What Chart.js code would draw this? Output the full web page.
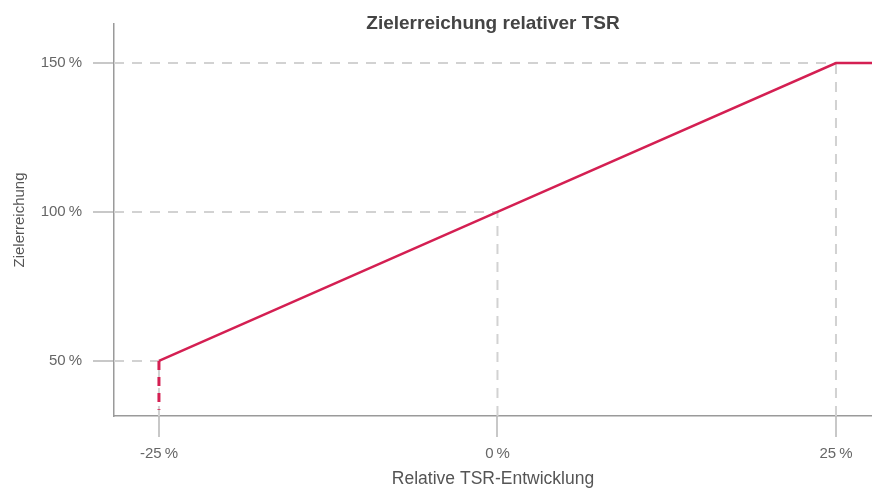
<!DOCTYPE html>
<html lang="de">
<head>
<meta charset="utf-8">
<title>Zielerreichung relativer TSR</title>
<script src="https://cdn.jsdelivr.net/npm/chart.js@4/dist/chart.umd.min.js"></script>
<style>
  html, body { margin: 0; padding: 0; background: #fff; }
  #wrap { width: 872px; height: 488px; }
</style>
</head>
<body>
<div id="wrap"><canvas id="chart" width="872" height="488"></canvas></div>
<script>
// Werte
const tsrWerte = [-25, 0, 25, 27.66];        // relative TSR-Entwicklung in %
const zielWerte = [50, 100, 150, 150];       // Zielerreichung in %
const untergrenzeX = [-25, -25];             // gestrichelter Abbruch unter 50 %
const untergrenzeY = [50, 33.6];
const xTicks = [-25, 0, 25];
const yTicks = [50, 100, 150];
const xBereich = [-28.32, 27.66];
const yBereich = [31.5, 163.1];

const ROT = '#d41f52';
const GRAU = '#d2d2d2';
const pct = (v) => v + '\u2009%';

// Hilfslinien: von der Achse bis zum jeweiligen Stützpunkt
const hilfslinien = [];
xTicks.forEach((x, i) => {
  const y = yTicks[i];
  hilfslinien.push([{ x: xBereich[0], y }, { x, y }]);
  hilfslinien.push([{ x, y: yBereich[0] }, { x, y }]);
});

const datasets = [
  {
    data: tsrWerte.map((x, i) => ({ x, y: zielWerte[i] })),
    borderColor: ROT,
    borderWidth: 2.5,
    pointRadius: 0,
    order: 0,
  },
  {
    data: untergrenzeX.map((x, i) => ({ x, y: untergrenzeY[i] })),
    borderColor: ROT,
    borderWidth: 3,
    borderDash: [9, 7],
    pointRadius: 0,
    order: 1,
  },
  ...hilfslinien.map((d) => ({
    data: d,
    borderColor: GRAU,
    borderWidth: 2,
    borderDash: [10, 8],
    pointRadius: 0,
    order: 2,
  })),
];

new Chart(document.getElementById('chart').getContext('2d'), {
  type: 'line',
  data: { datasets },
  options: {
    responsive: false,
    animation: false,
    layout: { padding: { top: 0, right: 0, bottom: 0, left: 0 } },
    plugins: {
      legend: { display: false },
      tooltip: { enabled: false },
      title: {
        display: true,
        text: 'Zielerreichung relativer TSR',
        fullSize: false,
        color: '#444',
        font: { family: 'Liberation Sans, Arial, sans-serif', size: 19, weight: 'bold', lineHeight: 1.2 },
        padding: { top: 12.6, bottom: -11.4 },
      },
    },
    scales: {
      x: {
        type: 'linear',
        min: xBereich[0],
        max: xBereich[1],
        afterBuildTicks: (s) => { s.ticks = xTicks.map((value) => ({ value })); },
        afterFit: (s) => { s.height = 72; },
        ticks: {
          color: '#666',
          font: { family: 'Liberation Sans, Arial, sans-serif', size: 15 },
          padding: 8,
          callback: pct,
        },
        grid: { drawOnChartArea: false, drawTicks: true, tickLength: 21, color: '#c8c8c8', lineWidth: 2 },
        border: { display: true, color: '#9a9a9a', width: 1.5 },
        title: {
          display: true,
          text: 'Relative TSR-Entwicklung',
          color: '#555',
          font: { family: 'Liberation Sans, Arial, sans-serif', size: 17.5, lineHeight: 1 },
          padding: 0,
        },
      },
      y: {
        type: 'linear',
        min: yBereich[0],
        max: yBereich[1],
        afterBuildTicks: (s) => { s.ticks = yTicks.map((value) => ({ value })); },
        afterFit: (s) => { s.width = 114; },
        ticks: {
          color: '#666',
          font: { family: 'Liberation Sans, Arial, sans-serif', size: 15 },
          padding: 11,
          callback: pct,
        },
        grid: { drawOnChartArea: false, drawTicks: true, tickLength: 21, color: '#c8c8c8', lineWidth: 2 },
        border: { display: true, color: '#9a9a9a', width: 1.5 },
        title: {
          display: true,
          text: 'Zielerreichung',
          color: '#555',
          font: { family: 'Liberation Sans, Arial, sans-serif', size: 15, lineHeight: 1.2 },
          padding: 11,
        },
      },
    },
  },
});
</script>
</body>
</html>
